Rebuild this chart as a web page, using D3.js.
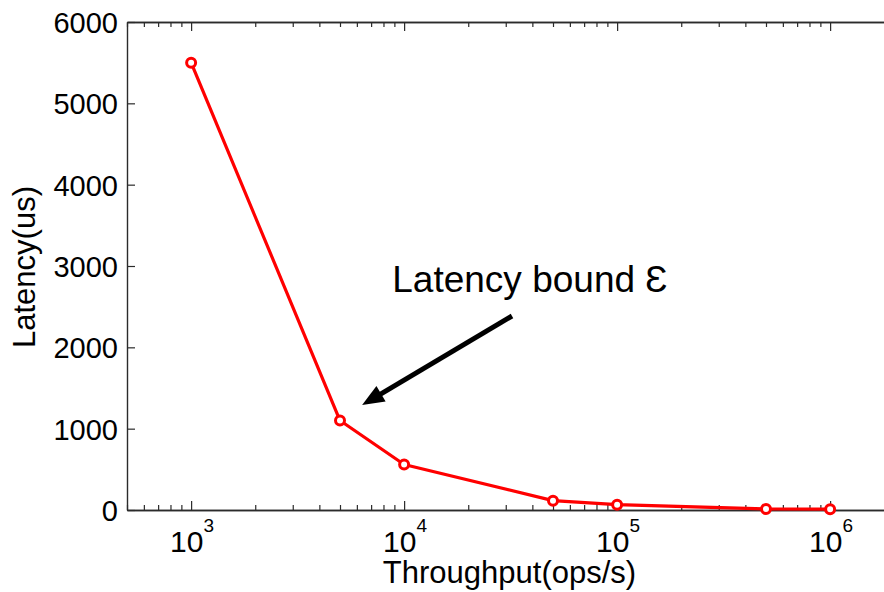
<!DOCTYPE html>
<html>
<head>
<meta charset="utf-8">
<script src="https://cdn.jsdelivr.net/npm/d3@7"></script>
<style>
  html, body { margin: 0; padding: 0; background: #fff; }
  text { font-family: "Liberation Sans", Arial, Helvetica, sans-serif; fill: #000; }
</style>
</head>
<body>
<svg id="chart" width="884" height="592"></svg>
<script>
// ---- data ----
const throughput = [1e3, 5e3, 1e4, 5e4, 1e5, 5e5, 1e6];
const latency    = [5500, 1100, 560, 115, 65, 12, 10];
const xMajorTicks = [1e3, 1e4, 1e5, 1e6];
const xTickExponents = ["3", "4", "5", "6"];
const yTicks = [0, 1000, 2000, 3000, 4000, 5000, 6000];
const xDomain = [500, 2e6];
const yDomain = [0, 6000];
const annotationText = "Latency bound \u0190";
const annotationAnchor = [8800, 2680];      // data units (text start)
const arrowFrom = [32100, 2385];            // data units
const arrowTo = [6350, 1291];               // data units

// ---- layout ----
const plotLeft = 127, plotTop = 22, plotBottom = 510;
const decade = 213;
const plotRight = plotLeft + decade * Math.log10(xDomain[1] / xDomain[0]);

const svg = d3.select("#chart");
const x = d3.scaleLog().domain(xDomain).range([plotLeft, plotRight]);
const y = d3.scaleLinear().domain(yDomain).range([plotBottom, plotTop]);

const axisColor = "#2b2b2b";

// minor ticks for log axis
const minorTicks = [];
for (let e = 2; e <= 6; e++) {
  for (let m = 2; m <= 9; m++) {
    const v = m * Math.pow(10, e);
    if (v >= xDomain[0] && v <= xDomain[1]) minorTicks.push(v);
  }
}

// bottom axis (ticks inward)
const gB = svg.append("g").attr("transform", `translate(0,${plotBottom})`)
  .call(d3.axisBottom(x).tickValues(xMajorTicks).tickSizeInner(-9).tickSizeOuter(0).tickFormat(""));
const gBm = svg.append("g").attr("transform", `translate(0,${plotBottom})`)
  .call(d3.axisBottom(x).tickValues(minorTicks).tickSizeInner(-5).tickSizeOuter(0).tickFormat(""));
// top axis (ticks inward)
const gT = svg.append("g").attr("transform", `translate(0,${plotTop})`)
  .call(d3.axisTop(x).tickValues(xMajorTicks).tickSizeInner(-9).tickSizeOuter(0).tickFormat(""));
const gTm = svg.append("g").attr("transform", `translate(0,${plotTop})`)
  .call(d3.axisTop(x).tickValues(minorTicks).tickSizeInner(-5).tickSizeOuter(0).tickFormat(""));
// left axis
const gL = svg.append("g").attr("transform", `translate(${plotLeft},0)`)
  .call(d3.axisLeft(y).tickValues(yTicks).tickSizeInner(-8).tickSizeOuter(0).tickPadding(10).tickFormat(d3.format("d")));

[gB, gBm, gT, gTm, gL].forEach(g => {
  g.selectAll("path.domain").attr("stroke", axisColor).attr("stroke-width", 1.4);
  g.selectAll(".tick line").attr("stroke", axisColor).attr("stroke-width", 1.2);
});
gL.selectAll(".tick text")
  .style("font-family", '"Liberation Sans", Arial, sans-serif')
  .style("font-size", "29px").attr("fill", "#000").attr("dy", "0.36em").attr("x", -9);

// x tick labels with superscripts
const xl = svg.append("g").selectAll("text").data(xMajorTicks).join("text")
  .attr("x", d => x(d) - 21)
  .attr("y", 552)
  .style("font-size", "30px");
xl.append("tspan").text("10");
xl.append("tspan").text((d, i) => xTickExponents[i])
  .attr("dy", -20).style("font-size", "19px");

// axis titles
svg.append("text")
  .attr("x", (plotLeft + 884) / 2 + 4).attr("y", 583)
  .attr("text-anchor", "middle").style("font-size", "31px")
  .text("Throughput(ops/s)");
svg.append("text")
  .attr("transform", "translate(35,267) rotate(-90)")
  .attr("text-anchor", "middle").style("font-size", "31px")
  .text("Latency(us)");

// data line
const pts = throughput.map((t, i) => [t, latency[i]]);
svg.append("path")
  .datum(pts)
  .attr("fill", "none").attr("stroke", "#ff0000").attr("stroke-width", 3.2)
  .attr("stroke-linejoin", "round")
  .attr("d", d3.line().x(d => x(d[0])).y(d => y(d[1])));
svg.append("g").selectAll("circle").data(pts).join("circle")
  .attr("cx", d => x(d[0])).attr("cy", d => y(d[1])).attr("r", 4.5)
  .attr("fill", "#fff").attr("stroke", "#ff0000").attr("stroke-width", 3);

// annotation
svg.append("text")
  .attr("x", x(annotationAnchor[0])).attr("y", y(annotationAnchor[1]))
  .style("font-size", "37px")
  .text(annotationText);

const x1 = x(arrowFrom[0]), y1 = y(arrowFrom[1]);
const x2 = x(arrowTo[0]), y2 = y(arrowTo[1]);
const ang = Math.atan2(y2 - y1, x2 - x1);
const headLen = 22, headHalf = 9;
const bx = x2 - headLen * Math.cos(ang), by = y2 - headLen * Math.sin(ang);
svg.append("line")
  .attr("x1", x1).attr("y1", y1).attr("x2", bx + 2 * Math.cos(ang)).attr("y2", by + 2 * Math.sin(ang))
  .attr("stroke", "#000").attr("stroke-width", 5);
svg.append("path")
  .attr("d", `M${x2},${y2}L${bx - headHalf * Math.sin(ang)},${by + headHalf * Math.cos(ang)}L${bx + headHalf * Math.sin(ang)},${by - headHalf * Math.cos(ang)}Z`)
  .attr("fill", "#000");
</script>
</body>
</html>
